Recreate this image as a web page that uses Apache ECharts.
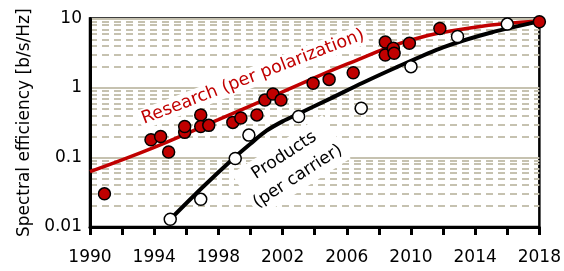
<!DOCTYPE html>
<html>
<head>
<meta charset="utf-8">
<script src="https://cdn.jsdelivr.net/npm/echarts@6/dist/echarts.min.js"></script>
<style>
  html, body { margin: 0; padding: 0; background: #fff; }
  #chart { width: 564px; height: 271px; }
</style>
</head>
<body>
<div id="chart"></div>
<script>
// research records (per polarization)
const researchYears = [1990.9, 1993.8, 1994.4, 1994.9, 1995.9, 1995.9, 1996.9, 1996.9, 1997.4, 1998.9, 1999.4, 2000.4, 2000.9, 2001.4, 2001.9, 2003.9, 2004.9, 2006.4, 2008.4, 2008.4, 2008.9, 2008.95, 2009.9, 2011.8, 2018];
const researchValues = [0.03, 0.18, 0.20, 0.12, 0.23, 0.28, 0.41, 0.28, 0.29, 0.32, 0.37, 0.41, 0.67, 0.82, 0.67, 1.17, 1.33, 1.66, 4.6, 2.98, 3.73, 3.16, 4.4, 7.2, 9.0];

// products (per carrier)
const productYears = [1995, 1996.9, 1999.05, 1999.9, 2003, 2006.9, 2010, 2012.9, 2016];
const productValues = [0.0129, 0.025, 0.097, 0.21, 0.39, 0.51, 2.03, 5.5, 8.3];

// trend curves
const researchTrendYears = [1990, 1994, 1998, 2002, 2006, 2010, 2014, 2018];
const researchTrendValues = [0.0625, 0.14, 0.35, 0.88, 2.2, 4.9, 7.5, 9.2];
const productTrendYears = [1995, 1997, 1999, 2000, 2001, 2002, 2003, 2005, 2007, 2009, 2012, 2015, 2018];
const productTrendValues = [0.0129, 0.037, 0.10, 0.158, 0.243, 0.331, 0.427, 0.71, 1.19, 1.94, 3.85, 6.3, 9.1];

const yTicks = [0.01, 0.1, 1, 10];
const minorSteps = [2, 3, 4, 5, 6, 7, 8, 9];

const RED = '#c00000';
const GRID = '#c6c2b0';
const FONT = 'DejaVu Sans';

const zip = (xs, ys) => xs.map((x, i) => [x, ys[i]]);

const minorLines = [];
yTicks.slice(0, 3).forEach(base => {
  minorSteps.forEach(m => minorLines.push({ yAxis: +(base * m).toPrecision(3) }));
});

const chart = echarts.init(document.getElementById('chart'));

const option = {
  animation: false,
  grid: {
    left: 90,
    right: 22,
    top: 18.5,
    bottom: 44,
    show: true,
    borderColor: '#000',
    borderWidth: 2.5,
    backgroundColor: 'transparent'
  },
  xAxis: {
    type: 'value',
    min: 1990,
    max: 2018,
    interval: 2,
    axisLine: { lineStyle: { color: '#000', width: 3 } },
    axisTick: { show: true, length: 8, lineStyle: { color: '#000', width: 3 } },
    axisLabel: {
      color: '#000',
      fontSize: 17,
      fontFamily: FONT,
      margin: 22,
      formatter: v => ((v - 1990) % 4 === 0 ? String(v) : '')
    },
    splitLine: { show: false }
  },
  yAxis: {
    type: 'log',
    logBase: 10,
    min: 0.01,
    max: 10,
    name: 'Spectral efficiency [b/s/Hz]',
    nameLocation: 'middle',
    nameGap: 56,
    nameTextStyle: { color: '#000', fontSize: 17, fontFamily: FONT },
    axisLine: { lineStyle: { color: '#000', width: 3 } },
    axisTick: { show: false },
    axisLabel: {
      color: '#000',
      fontSize: 17,
      fontFamily: FONT,
      margin: 8,
      formatter: v => (yTicks.some(t => Math.abs(t - v) / t < 1e-6) ? String(v) : '')
    },
    splitLine: { show: true, lineStyle: { color: GRID, width: 2 } }
  },
  series: [
    {
      name: 'minor grid',
      type: 'line',
      data: [],
      z: 0,
      silent: true,
      markLine: {
        z: 0,
        silent: true,
        symbol: 'none',
        label: { show: false },
        lineStyle: { color: GRID, width: 2, type: [7, 5] },
        data: minorLines
      }
    },
    {
      name: 'research trend',
      type: 'line',
      data: zip(researchTrendYears, researchTrendValues),
      smooth: 0.4,
      showSymbol: false,
      symbol: 'none',
      lineStyle: { color: RED, width: 3.5 },
      z: 2
    },
    {
      name: 'product trend',
      type: 'line',
      data: zip(productTrendYears, productTrendValues),
      smooth: 0.3,
      showSymbol: false,
      symbol: 'none',
      lineStyle: { color: '#000', width: 4 },
      z: 2
    },
    {
      name: 'Research',
      type: 'scatter',
      data: zip(researchYears, researchValues),
      symbolSize: 12,
      itemStyle: { color: RED, borderColor: '#000', borderWidth: 1.5, opacity: 1 },
      z: 4
    },
    {
      name: 'Products',
      type: 'scatter',
      data: zip(productYears, productValues),
      symbolSize: 12,
      itemStyle: { color: '#fff', borderColor: '#000', borderWidth: 1.5, opacity: 1 },
      z: 4
    }
  ],
  graphic: [
    {
      type: 'text',
      x: 253,
      y: 77,
      rotation: 21 * Math.PI / 180,
      z: 10,
      style: {
        text: 'Research (per polarization)',
        fill: RED,
        font: '17.5px "DejaVu Sans"',
        align: 'center',
        verticalAlign: 'middle',
        backgroundColor: '#fff',
        padding: [1, 3]
      }
    },
    {
      type: 'text',
      x: 291,
      y: 166,
      rotation: 33 * Math.PI / 180,
      z: 10,
      style: {
        text: 'Products\n(per carrier)',
        fill: '#000',
        font: '17px "DejaVu Sans"',
        lineHeight: 25,
        align: 'center',
        verticalAlign: 'middle',
        backgroundColor: '#fff',
        padding: [1, 3]
      }
    }
  ]
};

chart.setOption(option);
</script>
</body>
</html>
